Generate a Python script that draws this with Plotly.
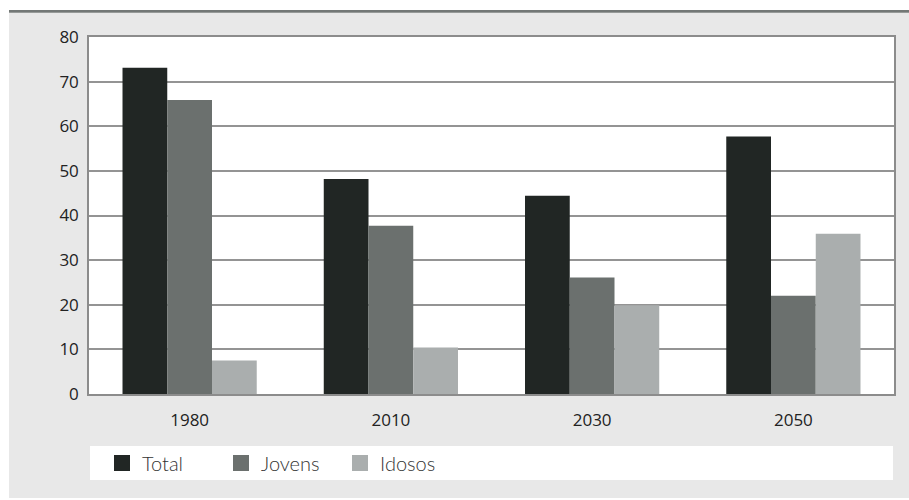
import plotly.graph_objects as go

# Razão de dependência por ano
anos = ["1980", "2010", "2030", "2050"]
total = [73.1, 48.2, 44.4, 57.7]
jovens = [65.9, 37.7, 26.1, 22.0]
idosos = [7.5, 10.4, 19.9, 35.9]

series = [
    ("Total", total, "#212624"),
    ("Jovens", jovens, "#6b706e"),
    ("Idosos", idosos, "#aaaeae"),
]

y_ticks = list(range(0, 81, 10))

fig = go.Figure()
for nome, valores, cor in series:
    fig.add_trace(go.Bar(
        x=anos, y=valores, name=nome, marker=dict(color=cor, line=dict(width=0)),
        showlegend=False,
    ))
# legend entries drawn as square markers
for nome, valores, cor in series:
    fig.add_trace(go.Scatter(
        x=[None], y=[None], name=nome, mode="markers",
        marker=dict(symbol="square", size=16, color=cor),
    ))

W, H = 909, 500
L, R, T, B = 89, 15, 37, 106
pw, ph = W - L - R, H - T - B


def px_x(p):
    return (p - L) / pw


def px_y(p):
    return (H - B - p) / ph


shapes = [
    # white margin strips around the grey panel
    dict(type="rect", xref="paper", yref="paper", x0=px_x(0), x1=px_x(W), y0=px_y(0), y1=px_y(13),
         fillcolor="white", line=dict(width=0), layer="below"),
    dict(type="rect", xref="paper", yref="paper", x0=px_x(0), x1=px_x(9), y0=px_y(0), y1=px_y(H),
         fillcolor="white", line=dict(width=0), layer="below"),
    dict(type="rect", xref="paper", yref="paper", x0=px_x(0), x1=px_x(W), y0=px_y(498), y1=px_y(H),
         fillcolor="white", line=dict(width=0), layer="below"),
    # header rule
    dict(type="rect", xref="paper", yref="paper", x0=px_x(9), x1=px_x(W), y0=px_y(10), y1=px_y(12.7),
         fillcolor="#737876", line=dict(width=0), layer="below"),
    # legend box
    dict(type="rect", xref="paper", yref="paper", x0=px_x(90), x1=px_x(893), y0=px_y(446), y1=px_y(480),
         fillcolor="white", line=dict(width=0), layer="below"),
]

fig.update_layout(
    width=W, height=H,
    margin=dict(l=L, r=R, t=T, b=B, pad=0),
    paper_bgcolor="#e8e8e8",
    plot_bgcolor="white",
    barmode="group",
    bargap=0.333,
    bargroupgap=0,
    shapes=shapes,
    font=dict(family="Open Sans, sans-serif", color="#222222", size=17),
    legend=dict(
        orientation="h",
        x=px_x(102), xanchor="left",
        y=px_y(463), yanchor="middle",
        bgcolor="rgba(0,0,0,0)",
        font=dict(family="Lato, sans-serif", size=20, color="#333333", weight=300),
        entrywidth=74,
        entrywidthmode="pixels",
        itemclick=False,
    ),
    xaxis=dict(
        showline=True, linecolor="#8c8c8c", linewidth=1.5,
        mirror=True, ticks="", ticklabelstandoff=10,
        showgrid=False,
        tickfont=dict(size=17, color="#222222"),
    ),
    yaxis=dict(
        range=[0, 80], tickvals=y_ticks, ticktext=[str(v) for v in y_ticks],
        showline=True, linecolor="#8c8c8c", linewidth=1.5, mirror=True,
        showgrid=True, gridcolor="#949494", gridwidth=1.5,
        zeroline=False, ticks="", ticklabelstandoff=5,
        tickfont=dict(size=17, color="#222222"),
    ),
)

fig.write_html("out.html")
